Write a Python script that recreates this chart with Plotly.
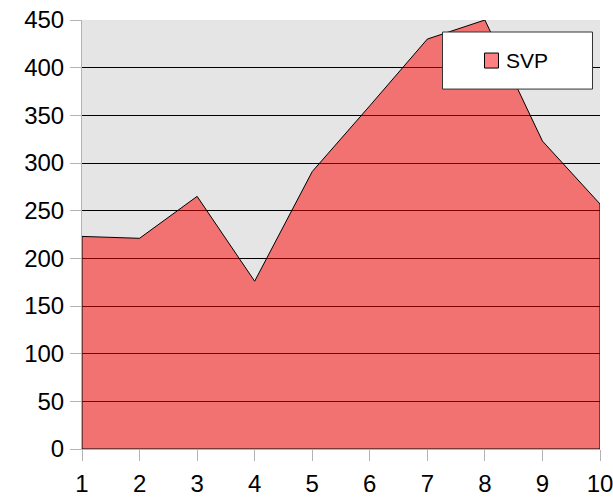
import plotly.graph_objects as go

x_values = [1, 2, 3, 4, 5, 6, 7, 8, 9, 10]
svp_values = [223, 221, 265, 176, 291, 360, 430, 450, 323, 257]
series_name = "SVP"
y_ticks = [0, 50, 100, 150, 200, 250, 300, 350, 400, 450]

FILL = "rgba(255,0,0,0.5)"
FONT = "Liberation Sans, Arial, sans-serif"

# closed polygon so that vertical edges and bottom are outlined like the reference
poly_x = [x_values[0]] + x_values + [x_values[-1], x_values[0]]
poly_y = [0] + svp_values + [0, 0]

fig = go.Figure()
fig.add_trace(go.Scatter(
    x=poly_x, y=poly_y, mode="lines", fill="toself", fillcolor=FILL,
    line=dict(color="black", width=1), name=series_name, showlegend=False,
    hoverinfo="skip",
))

fig.update_layout(
    width=613, height=497,
    margin=dict(l=82, r=12.5, t=20, b=47.7, pad=0),
    paper_bgcolor="white", plot_bgcolor="#e5e5e5",
    font=dict(family=FONT, size=24, color="black"),
    showlegend=False,
)
fig.update_xaxes(
    range=[1, 10], tickvals=x_values, ticktext=[str(v) for v in x_values],
    showgrid=False, zeroline=False, showline=True, linecolor="#b3b3b3", linewidth=1,
    ticks="outside", ticklen=11, tickcolor="#b3b3b3", tickwidth=1,
    ticklabelstandoff=2, automargin=False, ticklabeloverflow="allow",
)
fig.update_yaxes(
    range=[0, 450], tickvals=y_ticks, showgrid=True, gridcolor="black", gridwidth=1,
    zeroline=False, showline=True, linecolor="#b3b3b3", linewidth=1,
    ticks="outside", ticklen=11, tickcolor="#b3b3b3", tickwidth=1,
    ticklabelstandoff=1, automargin=False, ticklabeloverflow="allow",
)

# legend box (drawn manually to match the reference's size)
fig.add_shape(type="rect", xref="paper", yref="paper", x0=0.696, x1=0.9855, y0=0.839, y1=0.972,
              fillcolor="white", line=dict(color="#333333", width=1), layer="above")
fig.add_shape(type="rect", xref="paper", yref="paper", x0=0.777, x1=0.804, y0=0.888, y1=0.923,
              fillcolor="#ff8080", line=dict(color="black", width=1), layer="above")
fig.add_annotation(text=series_name, xref="paper", yref="paper", x=0.814, y=0.9045,
                   xanchor="left", yanchor="middle", showarrow=False,
                   font=dict(family=FONT, size=21, color="black"))

fig.write_html("out.html", config={"displayModeBar": False},
               post_script="document.body.style.margin='0';document.body.style.overflow='hidden';")
